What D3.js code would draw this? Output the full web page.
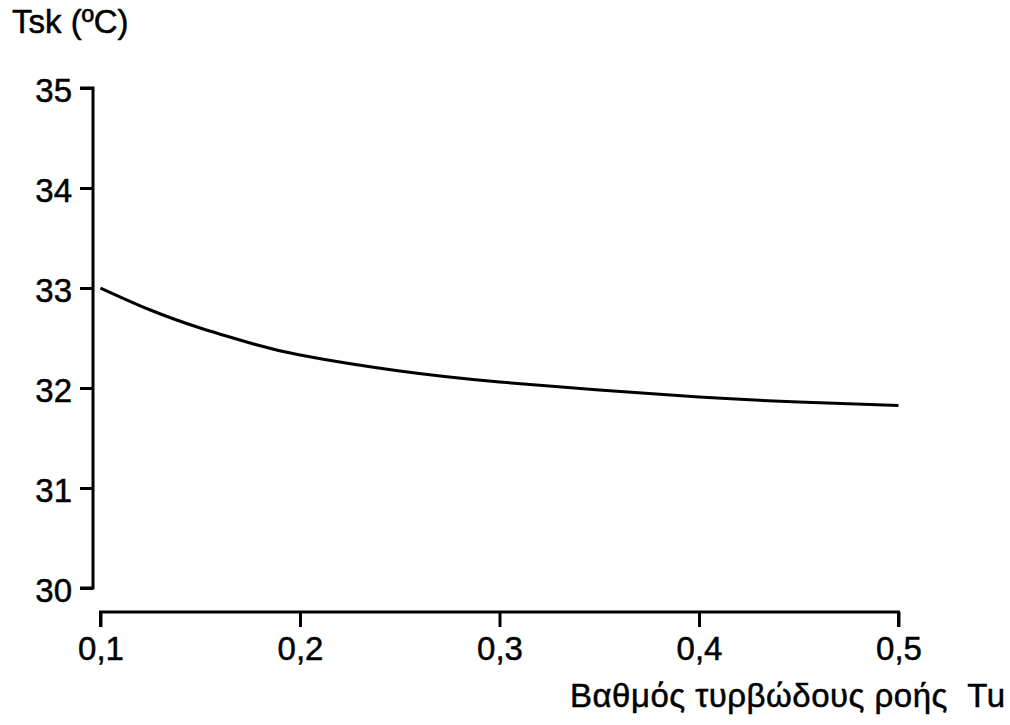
<!DOCTYPE html>
<html>
<head>
<meta charset="utf-8">
<script src="https://cdn.jsdelivr.net/npm/d3@7/dist/d3.min.js"></script>
<style>
  html, body { margin: 0; padding: 0; background: #fff; }
  svg { display: block; }
  text { font-family: "Liberation Sans", Arial, sans-serif; fill: #000; stroke: #000; stroke-width: 0.5px; }
</style>
</head>
<body>
<svg id="chart" width="1010" height="725"></svg>
<script>
// Data
const tuValues  = [0.10, 0.125, 0.15, 0.175, 0.20, 0.25, 0.30, 0.35, 0.40, 0.45, 0.50];
const tskValues = [33.00, 32.78, 32.60, 32.45, 32.33, 32.17, 32.06, 31.98, 31.91, 31.86, 31.825];
const xTicks = [0.1, 0.2, 0.3, 0.4, 0.5];
const xTickLabels = ["0,1", "0,2", "0,3", "0,4", "0,5"];
const yTicks = [30, 31, 32, 33, 34, 35];
const yTickLabels = ["30", "31", "32", "33", "34", "35"];
const yTitle = "Tsk (ºC)";
const xTitle = "Βαθμός τυρβώδους ροής  Tu";

const svg = d3.select("#chart");
const fontSize = 33;
const fontFam = '"Liberation Sans", Arial, sans-serif';

const x = d3.scaleLinear().domain([0.1, 0.5]).range([100.5, 898.5]);
const y = d3.scaleLinear().domain([30, 35]).range([588, 88]);

// Y axis
const yAxis = d3.axisLeft(y).tickValues(yTicks)
  .tickFormat((d, i) => yTickLabels[i]).tickSize(13).tickPadding(8);
const gy = svg.append("g").attr("transform", "translate(93,0)").call(yAxis);
gy.select(".domain").attr("d", `M-13,${y(35)}H0V${y(30)}H-13`).attr("stroke-width", 3).attr("fill", "none");
gy.selectAll(".tick line").attr("stroke-width", 3);
gy.selectAll(".tick text").attr("font-size", fontSize)
  .attr("font-family", fontFam).attr("dy", "0.42em");

// X axis
const xAxis = d3.axisBottom(x).tickValues(xTicks)
  .tickFormat((d, i) => xTickLabels[i]).tickSize(15).tickPadding(10);
const gx = svg.append("g").attr("transform", "translate(0,612)").call(xAxis);
gx.select(".domain").attr("d", `M${x(0.1)},15V0H${x(0.5)}V15`).attr("stroke-width", 3).attr("fill", "none");
gx.selectAll(".tick line").attr("stroke-width", 3);
gx.selectAll(".tick text").attr("font-size", fontSize)
  .attr("font-family", fontFam);

// Curve
const line = d3.line()
  .x((d, i) => x(tuValues[i]))
  .y(d => y(d))
  .curve(d3.curveNatural);
svg.append("path")
  .datum(tskValues)
  .attr("d", line)
  .attr("fill", "none")
  .attr("stroke", "#000")
  .attr("stroke-width", 3);

// Titles
svg.append("text").attr("x", 12).attr("y", 33)
  .attr("font-size", fontSize).text(yTitle);
svg.append("text").attr("x", 570).attr("y", 707)
  .attr("font-size", fontSize)
  .attr("textLength", 435).attr("lengthAdjust", "spacing")
  .style("white-space", "pre").text(xTitle);
</script>
</body>
</html>
